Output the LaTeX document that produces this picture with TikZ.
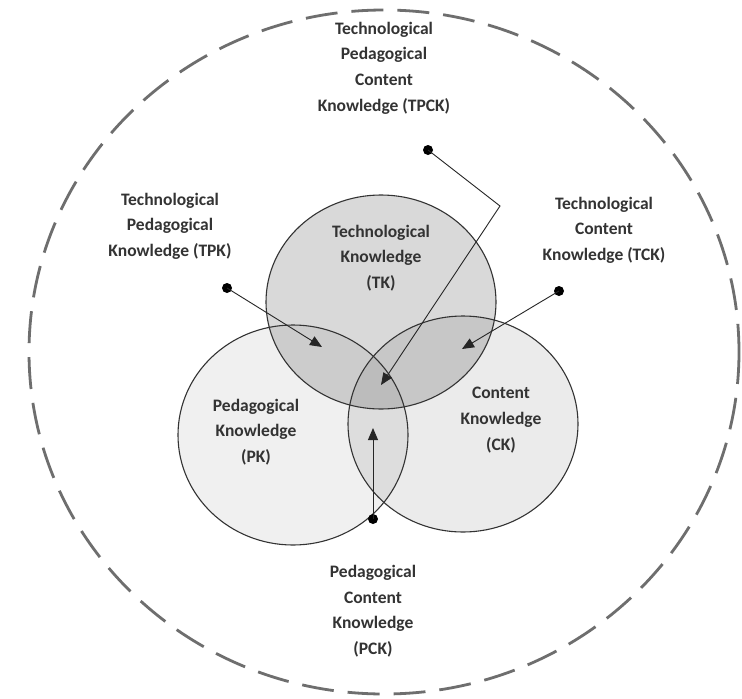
\documentclass[tikz,border=0pt]{standalone}
\usepackage{fontspec}
\setmainfont{Carlito}
\usetikzlibrary{arrows.meta}
\definecolor{txt}{HTML}{333333}
\definecolor{dashgray}{HTML}{6E6E6E}
\tikzset{
  lbl/.style={align=center, font=\bfseries\fontsize{17.5}{25.6}\selectfont, text=txt, inner sep=0pt},
  ring/.style={draw=black!80, line width=1.1pt},
  dotnode/.style={circle, fill=black, inner sep=0pt, minimum size=10pt},
  pointer/.style={line width=0.9pt, draw=black!85, -{Triangle[length=12pt,width=10pt]}},
}
\begin{document}
\begin{tikzpicture}[x=1pt,y=-1pt]
\useasboundingbox (0,0) rectangle (742,699);
\fill[white] (0,0) rectangle (742,699);
% outer dashed ellipse
\draw[dashgray, line width=2.8pt, dash pattern=on 32pt off 14pt] (384,352) ellipse [x radius=355, y radius=342];
% fills
\fill[black, fill opacity=0.06] (293,435) ellipse [x radius=115, y radius=110];
\fill[black, fill opacity=0.08] (463,424) ellipse [x radius=115, y radius=108];
\fill[black, fill opacity=0.15] (381,302) ellipse [x radius=115, y radius=107];
% outlines
\draw[ring] (293,435) ellipse [x radius=115, y radius=110];
\draw[ring] (463,424) ellipse [x radius=115, y radius=108];
\draw[ring] (381,302) ellipse [x radius=115, y radius=107];
% labels
\node[lbl] (TPCK) at (384,68) {Technological\\Pedagogical\\Content\\Knowledge (TPCK)};
\node[lbl] (TPK) at (170,226) {Technological\\Pedagogical\\Knowledge (TPK)};
\node[lbl] (TCK) at (604,230) {Technological\\Content\\Knowledge (TCK)};
\node[lbl] (TK) at (381,258) {Technological\\Knowledge\\(TK)};
\node[lbl] (PK) at (256,432) {Pedagogical\\Knowledge\\(PK)};
\node[lbl] (CK) at (501,420) {Content\\Knowledge\\(CK)};
\node[lbl] (PCK) at (373,611) {Pedagogical\\Content\\Knowledge\\(PCK)};
% dots
\node[dotnode] (dTPCK) at (428,150) {};
\node[dotnode] (dTPK) at (227,288) {};
\node[dotnode] (dTCK) at (559,291) {};
\node[dotnode] (dPCK) at (373,519) {};
% targets
\coordinate (bTPCK) at (500,206);
\coordinate (tTPCK) at (381,385);
\coordinate (tTPK) at (322,347);
\coordinate (tTCK) at (462,349);
\coordinate (tPCK) at (373,428);
% connectors
\draw[pointer] (dTPCK.center) -- (bTPCK) -- (tTPCK);
\draw[pointer] (dTPK.center) -- (tTPK);
\draw[pointer] (dTCK.center) -- (tTCK);
\draw[pointer] (dPCK.center) -- (tPCK);
\end{tikzpicture}
\end{document}
